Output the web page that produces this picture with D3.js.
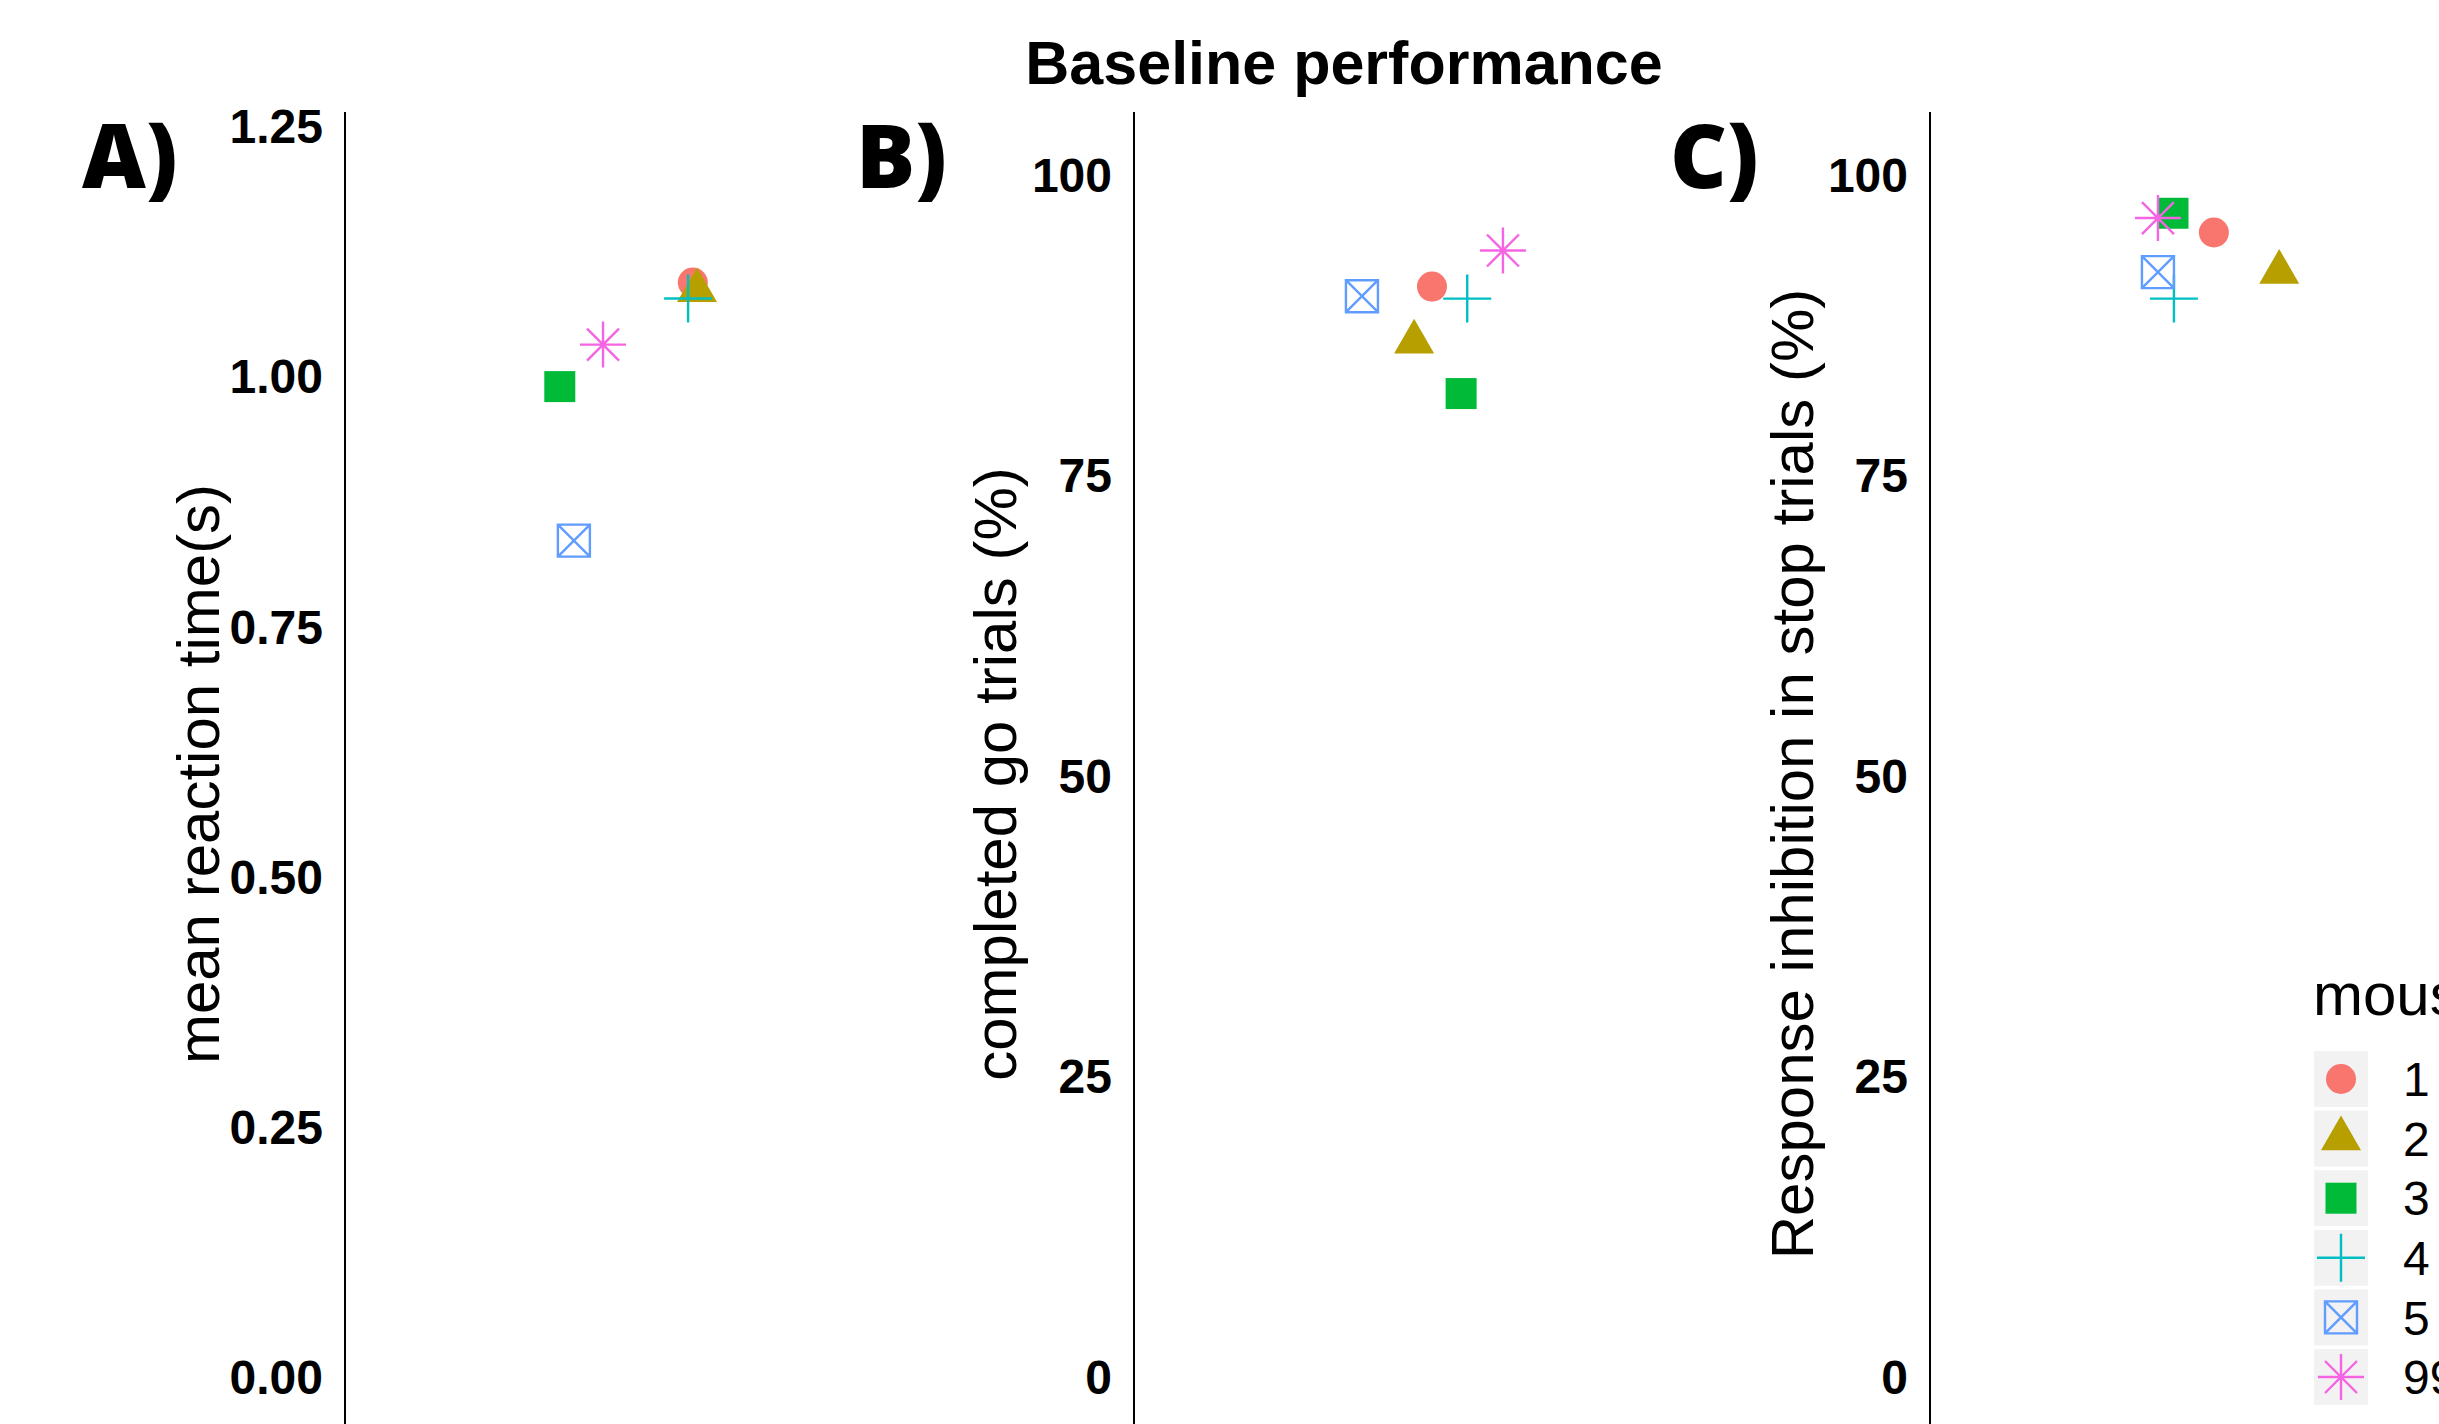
<!DOCTYPE html>
<html>
<head>
<meta charset="utf-8">
<script src="https://cdn.jsdelivr.net/npm/d3@7"></script>
<style>
  body { margin: 0; background: #fff; }
  svg { display: block; font-family: "Liberation Sans", Arial, sans-serif; }
</style>
</head>
<body>
<div id="chart"></div>
<script>
// mice and their marker styles (legend order)
const mice = ['1', '2', '3', '4', '5', '99'];
const shapes = ['circle', 'triangle', 'square', 'plus', 'boxX', 'asterisk'];
const colors = ['#F8766D', '#B79F00', '#00BA38', '#00BFC4', '#619CFF', '#F564E3'];

// A) mean reaction time (s), with the jittered x position of each point
const rtValues = [1.095, 1.087, 0.991, 1.079, 0.837, 1.033];
const rtJitter = [1.240, 1.249, 0.957, 1.230, 0.987, 1.049];
// B) completed go trials (%)
const goValues = [90.8, 86.2, 81.9, 89.8, 90.0, 93.8];
const goJitter = [1.134, 1.096, 1.196, 1.209, 0.985, 1.285];
// C) response inhibition in stop trials (%)
const stopValues = [95.3, 92.0, 96.9, 89.8, 92.0, 96.5];
const stopJitter = [1.104, 1.243, 1.017, 1.019, 0.985, 0.985];

const rtTicks = [0, 0.25, 0.5, 0.75, 1, 1.25];
const pctTicks = [0, 25, 50, 75, 100];

const width = 2439, height = 1424;

const svg = d3.select('#chart').append('svg')
  .attr('width', width)
  .attr('height', height);

svg.append('rect').attr('width', width).attr('height', height).attr('fill', '#fff');

svg.append('text')
  .attr('x', 1344)
  .attr('y', 84)
  .attr('text-anchor', 'middle')
  .attr('font-size', 61)
  .attr('font-weight', 'bold')
  .text('Baseline performance');

// draw one marker at the origin of group g
function marker(g, shape, color) {
  const p = d3.path();
  if (shape === 'circle') {
    g.append('path').attr('d', d3.symbol(d3.symbolCircle, 707)()).attr('fill', color);
  } else if (shape === 'triangle') {
    g.append('path').attr('d', d3.symbol(d3.symbolTriangle, 693)()).attr('fill', color);
  } else if (shape === 'square') {
    g.append('path').attr('d', d3.symbol(d3.symbolSquare, 961)()).attr('fill', color);
  } else {
    if (shape === 'plus' || shape === 'asterisk') {
      const r = shape === 'plus' ? 24 : 23;
      p.moveTo(-r, 0); p.lineTo(r, 0);
      p.moveTo(0, -r); p.lineTo(0, r);
    }
    if (shape === 'asterisk') {
      const d = 16;
      p.moveTo(-d, -d); p.lineTo(d, d);
      p.moveTo(-d, d); p.lineTo(d, -d);
    }
    if (shape === 'boxX') {
      const s = 16;
      p.rect(-s, -s, 2 * s, 2 * s);
      p.moveTo(-s, -s); p.lineTo(s, s);
      p.moveTo(-s, s); p.lineTo(s, -s);
    }
    g.append('path').attr('d', p.toString())
      .attr('fill', 'none')
      .attr('stroke', color)
      .attr('stroke-width', 2.4);
  }
}

const panels = [
  { letter: 'A)', letterX: 82, axisX: 345, top: 127.5, domain: [0, 1.25], ticks: rtTicks,
    fmt: d3.format('.2f'), title: 'mean reaction time(s)', titleX: 198,
    values: rtValues, jitter: rtJitter },
  { letter: 'B)', letterX: 856, axisX: 1134, top: 176, domain: [0, 100], ticks: pctTicks,
    fmt: d3.format('d'), title: 'completed go trials (%)', titleX: 995,
    values: goValues, jitter: goJitter },
  { letter: 'C)', letterX: 1670, axisX: 1930, top: 176, domain: [0, 100], ticks: pctTicks,
    fmt: d3.format('d'), title: 'Response inhibition in stop trials (%)', titleX: 1792,
    values: stopValues, jitter: stopJitter }
];

panels.forEach(pn => {
  const y = d3.scaleLinear().domain(pn.domain).range([1378, pn.top]);
  const x = d3.scaleLinear().domain([0.5, 1.5]).range([pn.axisX, pn.axisX + 470]);

  svg.append('text')
    .attr('x', pn.letterX)
    .attr('y', 188)
    .attr('font-family', '"Open Sans", sans-serif')
    .attr('font-weight', 800)
    .attr('font-size', 88)
    .text(pn.letter);

  const ax = svg.append('g')
    .attr('transform', `translate(${pn.axisX},0)`)
    .call(d3.axisLeft(y).tickValues(pn.ticks).tickFormat(pn.fmt).tickSize(0).tickPadding(22));
  ax.select('.domain').remove();
  ax.selectAll('text')
    .attr('font-family', '"Liberation Sans", Arial, sans-serif')
    .attr('font-size', 48)
    .attr('font-weight', 'bold')
    .attr('fill', '#000');

  svg.append('line')
    .attr('x1', pn.axisX).attr('x2', pn.axisX)
    .attr('y1', 112).attr('y2', height)
    .attr('stroke', '#000')
    .attr('stroke-width', 2);

  svg.append('text')
    .attr('transform', `translate(${pn.titleX},774) rotate(-90)`)
    .attr('text-anchor', 'middle')
    .attr('dy', '0.35em')
    .attr('font-size', 60)
    .text(pn.title);

  mice.forEach((m, i) => {
    const g = svg.append('g')
      .attr('transform', `translate(${x(pn.jitter[i])},${y(pn.values[i])})`);
    marker(g, shapes[i], colors[i]);
  });
});

// legend
const legend = svg.append('g');
legend.append('text')
  .attr('x', 2313)
  .attr('y', 1015)
  .attr('font-size', 60)
  .text('mouse');

const keyY = d3.scaleLinear().domain([0, 5]).range([1079, 1377]);
mice.forEach((m, i) => {
  const cy = keyY(i);
  legend.append('rect')
    .attr('x', 2314).attr('y', cy - 28)
    .attr('width', 54).attr('height', 56)
    .attr('fill', '#f2f2f2');
  const g = legend.append('g').attr('transform', `translate(2341,${cy})`);
  marker(g, shapes[i], colors[i]);
  legend.append('text')
    .attr('x', 2403)
    .attr('y', cy)
    .attr('dy', '0.36em')
    .attr('font-size', 48)
    .text(m);
});
</script>
</body>
</html>
